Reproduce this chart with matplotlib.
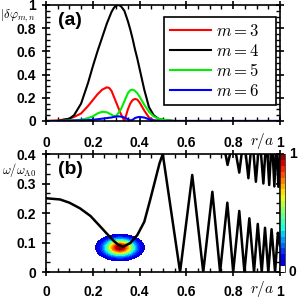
import numpy as np
import matplotlib

matplotlib.use("Agg")
import matplotlib.pyplot as plt
from matplotlib.colors import ListedColormap
from matplotlib.ticker import MultipleLocator

plt.rcParams["font.family"] = "Liberation Sans"
plt.rcParams["font.weight"] = "bold"
plt.rcParams["mathtext.fontset"] = "cm"

# ---- panel (a): mode structure |delta phi_{m,n}| ----
r_top = [0, 0.05, 0.10, 0.12, 0.15, 0.18, 0.20, 0.22, 0.24, 0.26, 0.27, 0.28,
         0.29, 0.30, 0.31, 0.32, 0.335, 0.35, 0.36, 0.37, 0.38, 0.39, 0.40,
         0.42, 0.44, 0.46, 0.48, 0.50, 0.55, 1.0]
phi_m3 = [0, 0.005, 0.02, 0.035, 0.065, 0.13, 0.18, 0.23, 0.27, 0.29, 0.285, 0.26,
          0.21, 0.16, 0.11, 0.06, 0.0, 0.10, 0.15, 0.18, 0.19, 0.185, 0.16,
          0.09, 0.03, 0.005, 0, 0, 0, 0]
phi_m4 = [0, 0, 0.02, 0.05, 0.15, 0.33, 0.47, 0.60, 0.72, 0.84, 0.89, 0.94,
          0.975, 0.995, 1.0, 0.99, 0.95, 0.86, 0.79, 0.71, 0.62, 0.54, 0.45,
          0.27, 0.12, 0.05, 0.02, 0.01, 0, 0]
phi_m5 = [0, 0, 0.005, 0.007, 0.01, 0.025, 0.04, 0.065, 0.08, 0.075, 0.065, 0.055,
          0.04, 0.045, 0.07, 0.10, 0.17, 0.24, 0.265, 0.27, 0.26, 0.24, 0.21,
          0.14, 0.08, 0.04, 0.02, 0.01, 0, 0]
phi_m6 = [0, 0, 0.003, 0.004, 0.006, 0.008, 0.01, 0.015, 0.02, 0.025, 0.028, 0.03,
          0.035, 0.038, 0.04, 0.038, 0.03, 0.015, 0.005, 0.01, 0.025, 0.032, 0.035,
          0.03, 0.015, 0.005, 0.002, 0, 0, 0]

# ---- panel (b): Alfven continuum ----
r_low = [0, 0.06, 0.10, 0.145, 0.19, 0.23, 0.26, 0.29, 0.31, 0.33, 0.36, 0.39,
         0.42, 0.445, 0.465, 0.485, 0.499, 0.573, 0.625, 0.672, 0.711, 0.744,
         0.775, 0.800, 0.826, 0.848, 0.869, 0.889, 0.905, 0.922, 0.936, 0.950,
         0.964, 0.979, 0.991, 1.0]
w_low = [0.25, 0.246, 0.235, 0.216, 0.19, 0.156, 0.13, 0.105, 0.092, 0.086, 0.098, 0.125,
         0.17, 0.244, 0.306, 0.368, 0.40, 0, 0.329, 0, 0.272, 0,
         0.235, 0, 0.207, 0, 0.182, 0, 0.163, 0, 0.150, 0,
         0.145, 0, 0.133, 0.09]
r_up = [0.755, 0.776, 0.801, 0.826, 0.8455, 0.865, 0.881, 0.897, 0.913, 0.929,
        0.9415, 0.954, 0.965, 0.976, 0.9845, 0.993, 1.0]
w_up = [0.45, 0.363, 0.45, 0.337, 0.46, 0.318, 0.46, 0.306, 0.46, 0.300,
        0.46, 0.295, 0.46, 0.290, 0.46, 0.289, 0.40]

# mode spectrum blob (peak location and widths)
blob_r0, blob_w0 = 0.316, 0.083
blob_sr, blob_sw = 0.06, 0.026

fig = plt.figure(figsize=(3, 3), dpi=100)
ax1 = fig.add_axes([0.1533, 0.5967, 0.78, 0.3867])
ax2 = fig.add_axes([0.1533, 0.0933, 0.78, 0.3933])
cax = fig.add_axes([0.9333, 0.0933, 0.0167, 0.3933])

ax1.plot(r_top, phi_m3, color="red", lw=1.5, label=r"$m=3$")
ax1.plot(r_top, phi_m4, color="black", lw=1.5, label=r"$m=4$")
ax1.plot(r_top, phi_m5, color="#00ee00", lw=1.5, label=r"$m=5$")
ax1.plot(r_top, phi_m6, color="blue", lw=1.5, label=r"$m=6$")
ax1.set_xlim(0, 1)
ax1.set_ylim(0, 1)

leg = ax1.legend(loc="upper left", bbox_to_anchor=(0.504, 0.12, 0.479, 0.775),
                 mode="expand", fontsize=12, handlelength=2.5, handletextpad=0.3,
                 labelspacing=0.22, borderpad=0.35, borderaxespad=0,
                 fancybox=False, edgecolor="black", framealpha=1)
leg.get_frame().set_linewidth(1.2)

# blob
rr, ww = np.meshgrid(np.linspace(0.15, 0.5, 200), np.linspace(0.0, 0.17, 200))
zz = np.exp(-((rr - blob_r0) / blob_sr) ** 2 - ((ww - blob_w0) / blob_sw) ** 2)
jet = plt.get_cmap("jet")(np.linspace(0, 1, 256))
jet[:13] = [1, 1, 1, 1]
cmap = ListedColormap(jet)
levels = np.linspace(0, 1, 21)
cf = ax2.contourf(rr, ww, zz, levels=levels, cmap=cmap, vmin=0, vmax=1)

ax2.plot(r_low, w_low, color="black", lw=1.8)
ax2.plot(r_up, w_up, color="black", lw=1.8)
ax2.set_xlim(0, 1)
ax2.set_ylim(0, 0.4)

cb = fig.colorbar(cf, cax=cax, ticks=[])
cb.outline.set_linewidth(0.5)
fig.text(0.975, 0.487, "1", fontsize=10, fontweight="bold", ha="center", va="center")
fig.text(0.975, 0.093, "0", fontsize=10, fontweight="bold", ha="center", va="center")

for ax in (ax1, ax2):
    ax.xaxis.set_major_locator(MultipleLocator(0.2))
    ax.xaxis.set_minor_locator(MultipleLocator(0.05))
    ax.tick_params(which="major", direction="inout", length=6, width=1.2,
                   top=True, right=True, labelsize=10)
    ax.tick_params(which="minor", direction="in", length=3, width=1,
                   top=True, right=True)
    ax.tick_params(axis="y", pad=4)
    for s in ax.spines.values():
        s.set_linewidth(1.2)

ax1.yaxis.set_major_locator(MultipleLocator(0.2))
ax1.yaxis.set_minor_locator(MultipleLocator(0.05))
ax2.yaxis.set_major_locator(MultipleLocator(0.1))
ax2.yaxis.set_minor_locator(MultipleLocator(0.1 / 3))
ax1.tick_params(axis="x", pad=8)
ax2.tick_params(axis="x", pad=6)

fmt = lambda v, p: "0" if abs(v) < 1e-9 else ("1" if abs(v - 1) < 1e-9 else f"{v:.1f}")
for ax in (ax1, ax2):
    ax.xaxis.set_major_formatter(plt.FuncFormatter(fmt))
    ax.yaxis.set_major_formatter(plt.FuncFormatter(fmt))

ax1.text(0.05, 0.87, "(a)", transform=ax1.transAxes, fontsize=14,
         fontweight="bold", va="center")
ax2.text(0.05, 0.873, "(b)", transform=ax2.transAxes, fontsize=14,
         fontweight="bold", va="center")

ax1.text(0.925, -0.17, r"$r/a$", transform=ax1.get_xaxis_transform(),
         fontsize=11, ha="center", va="center")
ax2.text(0.925, -0.14, r"$r/a$", transform=ax2.get_xaxis_transform(),
         fontsize=11, ha="center", va="center")

fig.text(0.0, 0.947, r"$|\delta\varphi_{m,n}$", fontsize=9, ha="left", va="center")
fig.text(0.005, 0.433, r"$\omega/\omega_{\rm A0}$", fontsize=9, ha="left", va="center")

fig.savefig("out.png", dpi=100, facecolor="white")
